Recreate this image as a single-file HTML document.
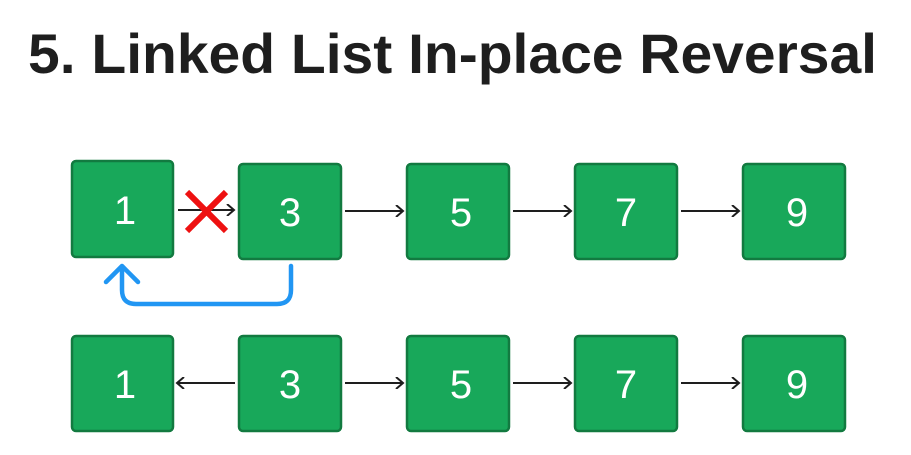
<!DOCTYPE html>
<html><head><style>html,body{margin:0;padding:0;background:#fff;}svg{display:block}</style></head>
<body>
<svg width="911" height="455" viewBox="0 0 911 455" xmlns="http://www.w3.org/2000/svg" font-family="Liberation Sans, sans-serif">
<rect width="911" height="455" fill="#fff"/>
<text x="28" y="73" font-size="56" font-weight="bold" fill="#1e1e1e" textLength="849" lengthAdjust="spacingAndGlyphs">5. Linked List In-place Reversal</text>
<defs>
<marker id="a" markerWidth="12" markerHeight="12" refX="10" refY="6" orient="auto" markerUnits="userSpaceOnUse">
<path d="M3,0 L10,6 L3,12" fill="none" stroke="#1e1e1e" stroke-width="2"/></marker>
</defs>
<g fill="#18a85a" stroke="#127a40" stroke-width="2.5">
<rect x="72" y="161" width="101" height="96" rx="4"/>
<rect x="239" y="164" width="102" height="95" rx="4"/>
<rect x="407" y="164" width="102" height="95" rx="4"/>
<rect x="575" y="164" width="102" height="95" rx="4"/>
<rect x="743" y="164" width="102" height="95" rx="4"/>
<rect x="72" y="336" width="101" height="95" rx="4"/>
<rect x="239" y="336" width="102" height="95" rx="4"/>
<rect x="407" y="336" width="102" height="95" rx="4"/>
<rect x="575" y="336" width="102" height="95" rx="4"/>
<rect x="743" y="336" width="102" height="95" rx="4"/>
</g>
<g fill="#fff" font-size="40" text-anchor="middle">
<text x="125" y="224">1</text><text x="290" y="226">3</text><text x="461" y="226">5</text><text x="626" y="226">7</text><text x="797" y="226">9</text>
<text x="125" y="398">1</text><text x="290" y="398">3</text><text x="461" y="398">5</text><text x="626" y="398">7</text><text x="797" y="398">9</text>
</g>
<g stroke="#1e1e1e" stroke-width="2" marker-end="url(#a)">
<line x1="178" y1="210" x2="234" y2="210"/>
<line x1="345" y1="211" x2="403" y2="211"/>
<line x1="513" y1="211" x2="571" y2="211"/>
<line x1="681" y1="211" x2="739" y2="211"/>
<line x1="235" y1="383" x2="177" y2="383"/>
<line x1="345" y1="383" x2="403" y2="383"/>
<line x1="513" y1="383" x2="571" y2="383"/>
<line x1="681" y1="383" x2="739" y2="383"/>
</g>
<g stroke="#ee1111" stroke-width="6">
<line x1="187" y1="192" x2="226" y2="231"/><line x1="226" y1="192" x2="187" y2="231"/>
</g>
<g fill="none" stroke="#2196f3" stroke-width="4.5" stroke-linecap="round" stroke-linejoin="round">
<path d="M291,266 L291,290 Q291,304 277,304 L136,304 Q122,304 122,290 L122,267"/>
<path d="M106,282 L122,266 L138,282"/>
</g>
</svg>
</body></html>
